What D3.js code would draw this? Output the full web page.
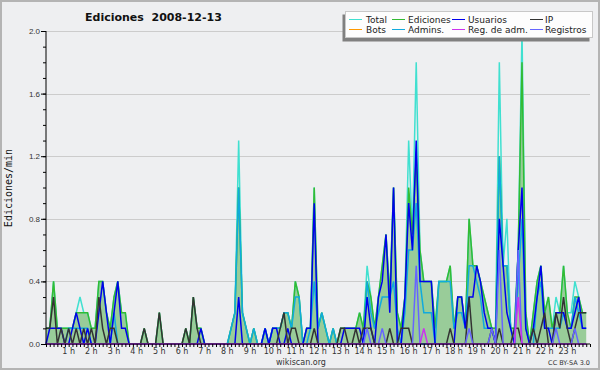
<!DOCTYPE html>
<html>
<head>
<meta charset="utf-8">
<script src="https://cdn.jsdelivr.net/npm/d3@7"></script>
<style>
    body { margin: 0; background: #fff; }
    svg { display: block; font-family: "DejaVu Sans", sans-serif; }
</style>
</head>
<body>
<svg id="chart"></svg>
<script>
// edits per minute, one value per 10 minutes (144 per day)
const total = [
    .1, .1, .4, .1, .1, .1, .1, .1, .2, .3, .2, .2,
    .1, .1, .4, .4, .2, .1, .3, .4, .2, .2, 0, 0,
    0, 0, .1, 0, 0, 0, .2, 0, 0, 0, 0, 0,
    0, .1, 0, .3, .1, .1, 0, 0, 0, 0, 0, 0,
    0, .1, .2, 1.3, .2, .1, 0, .1, 0, 0, .1, 0,
    .1, .1, .1, .2, .2, .1, .4, .3, 0, .1, .1, 1.0,
    .1, .2, .1, 0, .1, 0, .1, .1, .1, .1, .1, .2,
    .1, .5, .3, .1, .3, .5, .7, .3, 1.0, .2, .1, .3,
    1.3, .7, 1.8, .6, .4, .4, .4, .1, .4, .4, .4, .5,
    .1, .3, .3, .1, .8, .5, .5, .4, .3, .2, .1, .1,
    1.8, .5, .8, .1, .1, .6, 2.0, .2, 0, .2, .4, .5,
    .2, .3, .1, .3, .2, .5, .2, .2, .4, .3, .2, .2
]
const ediciones = [
    .1, .1, .4, .1, .1, .1, .1, .1, .2, .2, .2, .2,
    .1, .1, .4, .4, .2, .1, .3, .4, .2, .2, 0, 0,
    0, 0, .1, 0, 0, 0, .2, 0, 0, 0, 0, 0,
    0, .1, 0, .3, .1, .1, 0, 0, 0, 0, 0, 0,
    0, .1, .2, 1.0, .2, .1, 0, .1, 0, 0, .1, 0,
    .1, .1, .1, .2, .2, .1, .4, .3, 0, .1, .1, 1.0,
    .1, .2, .1, 0, .1, 0, .1, .1, .1, .1, .1, .2,
    .1, .4, .3, .1, .3, .5, .7, .3, 1.0, .2, .1, .3,
    1.0, .7, 1.2, .6, .4, .4, .4, .1, .4, .4, .4, .5,
    .1, .3, .3, .1, .8, .5, .5, .4, .3, .2, .1, .1,
    1.2, .5, .5, .1, .1, .6, 1.8, .2, 0, .2, .4, .5,
    .2, .3, .1, .2, .2, .5, .2, .1, .3, .3, .2, .2
]
const usuarios = [
    0, .1, .1, .1, .1, 0, 0, .1, .2, .1, 0, .1,
    0, 0, .2, .4, .2, 0, .2, .4, .1, .1, 0, 0,
    0, 0, 0, 0, 0, 0, 0, 0, 0, 0, 0, 0,
    0, 0, 0, 0, 0, .1, 0, 0, 0, 0, 0, 0,
    0, 0, 0, .3, 0, 0, 0, 0, 0, 0, .1, 0,
    .1, .1, 0, 0, .1, 0, 0, 0, 0, .1, .1, .9,
    0, 0, 0, 0, 0, 0, 0, .1, .1, .1, .1, .1,
    0, .3, .1, 0, .3, .4, .7, .2, 1.0, 0, 0, .3,
    .9, .6, 1.3, .4, .4, .4, .4, 0, 0, 0, 0, 0,
    0, .3, .3, .1, .3, .3, .5, .4, .2, .1, .1, 0,
    .8, .5, .2, .1, 0, .6, 1.0, .1, 0, .1, .3, .5,
    .1, .1, 0, .2, .2, .2, .1, .1, .2, .3, .1, .1
]
const ip = [
    .1, .1, .3, 0, .1, 0, .1, 0, .1, 0, .1, 0,
    .1, 0, .3, .1, 0, .1, .1, 0, 0, 0, 0, 0,
    0, 0, .1, 0, 0, 0, .2, 0, 0, 0, 0, 0,
    0, .1, 0, .3, .1, 0, 0, 0, 0, 0, 0, 0,
    0, 0, 0, 0, 0, 0, 0, 0, 0, 0, 0, 0,
    0, 0, .1, .2, 0, .1, .1, 0, 0, 0, 0, .1,
    0, 0, 0, 0, 0, 0, .1, .1, 0, 0, .1, 0,
    .1, .1, .1, 0, 0, 0, 0, .1, 0, 0, .1, .1,
    .1, 0, 0, 0, 0, 0, 0, 0, 0, 0, 0, .1,
    0, 0, 0, 0, .3, 0, 0, 0, 0, 0, .1, 0,
    .1, 0, 0, 0, .1, .1, 0, 0, 0, .1, 0, .1,
    .2, 0, 0, .2, .1, .3, .1, 0, .1, .2, .2, .2
]
const admins = [
    0, 0, 0, 0, 0, 0, .1, .1, .1, .1, .1, .1,
    0, 0, 0, 0, 0, 0, .2, 0, 0, 0, 0, 0,
    0, 0, 0, 0, 0, 0, 0, 0, 0, 0, 0, 0,
    0, 0, 0, 0, 0, 0, 0, 0, 0, 0, 0, 0,
    0, .1, .2, 1.0, .2, .1, 0, .1, 0, 0, .1, 0,
    .1, .1, .1, .2, .2, .1, .3, .3, 0, 0, .1, .4,
    .1, .2, .1, 0, .1, 0, 0, 0, 0, 0, 0, 0,
    0, .4, .2, .1, .2, .3, .3, .3, .4, .1, 0, .2,
    .6, .6, .9, .4, .2, .2, .2, 0, .4, .4, .4, .4,
    .1, .2, .2, .1, .5, .5, .4, .3, .1, .1, .1, 0,
    1.2, .5, .5, .1, 0, .4, .8, .1, 0, 0, .3, .4,
    .1, .1, .1, .1, .1, .2, .1, .1, .3, .2, .1, .1
]
const registros = [
    0, 0, 0, 0, 0, 0, 0, 0, 0, 0, 0, 0,
    0, 0, 0, 0, 0, 0, 0, 0, 0, 0, 0, 0,
    0, 0, 0, 0, 0, 0, 0, 0, 0, 0, 0, 0,
    0, 0, 0, 0, 0, 0, 0, 0, 0, 0, 0, 0,
    0, 0, 0, 0, 0, 0, 0, 0, 0, 0, 0, 0,
    0, 0, 0, 0, 0, 0, 0, 0, 0, 0, 0, 0,
    0, 0, 0, 0, 0, 0, 0, 0, 0, 0, 0, 0,
    0, .1, 0, 0, 0, .1, 0, 0, 0, 0, 0, 0,
    0, 0, .5, 0, 0, 0, 0, 0, 0, 0, 0, 0,
    0, 0, 0, 0, .1, 0, 0, 0, 0, 0, .1, 0,
    .6, 0, 0, 0, 0, .6, 0, 0, 0, 0, 0, 0,
    0, 0, 0, .1, 0, 0, 0, 0, .1, 0, 0, 0
]
const regAdm = [
    0, 0, 0, 0, 0, 0, 0, 0, 0, 0, 0, 0,
    0, 0, 0, 0, 0, 0, 0, 0, 0, 0, 0, 0,
    0, 0, 0, 0, 0, 0, 0, 0, 0, 0, 0, 0,
    0, 0, 0, 0, 0, 0, 0, 0, 0, 0, 0, 0,
    0, 0, 0, 0, 0, 0, 0, 0, 0, 0, 0, 0,
    0, 0, 0, 0, 0, 0, 0, 0, 0, 0, 0, 0,
    0, 0, 0, 0, 0, 0, 0, 0, 0, 0, 0, 0,
    0, 0, 0, 0, 0, 0, 0, 0, 0, 0, 0, 0,
    0, 0, 0, 0, .1, 0, 0, 0, 0, 0, 0, 0,
    0, 0, 0, 0, 0, 0, 0, 0, 0, 0, 0, 0,
    0, 0, 0, 0, 0, .3, 0, 0, 0, 0, 0, 0,
    0, 0, 0, 0, 0, 0, 0, 0, 0, 0, 0, 0
]

const hourLabels = ['1 h', '2 h', '3 h', '4 h', '5 h', '6 h', '7 h', '8 h', '9 h', '10 h', '11 h', '12 h',
    '13 h', '14 h', '15 h', '16 h', '17 h', '18 h', '19 h', '20 h', '21 h', '22 h', '23 h']
const yTicks = [0, 0.4, 0.8, 1.2, 1.6, 2.0]

const legendItems = [
    {name: 'Total', color: '#40e0d0'},
    {name: 'Ediciones', color: '#33bb33'},
    {name: 'Usuarios', color: '#0000ee'},
    {name: 'IP', color: '#333333'},
    {name: 'Bots', color: '#ff9900'},
    {name: 'Admins.', color: '#11aadd'},
    {name: 'Reg. de adm.', color: '#cc33ee'},
    {name: 'Registros', color: '#6666ff'}
]

const svg = d3.select('#chart')
    .attr('width', 600)
    .attr('height', 370)

// page background + frame
svg.append('rect')
    .attr('x', 1).attr('y', 1)
    .attr('width', 598).attr('height', 368)
    .attr('fill', '#eeeff1')
    .attr('stroke', '#b4b4b4')
    .attr('stroke-width', 2)

const x = d3.scaleLinear()
    .domain([0, 144])
    .range([46, 590])

const y = d3.scaleLinear()
    .domain([0, 2])
    .range([344, 31])

// grid
svg.append('g')
    .selectAll('line')
    .data(yTicks.slice(1))
    .join('line')
    .attr('x1', 46).attr('x2', 590)
    .attr('y1', d => Math.round(y(d)) + 0.5)
    .attr('y2', d => Math.round(y(d)) + 0.5)
    .attr('stroke', '#cccccc')

// series
const plot = svg.append('g')

const area = d3.area()
    .x((d, i) => x(i))
    .y0(y(0))
    .y1(d => y(d))

plot.append('path')
    .attr('d', area(ediciones))
    .attr('fill', '#99cc99')

const line = d3.line()
    .x((d, i) => x(i))
    .y(d => y(d))

const series = [
    {values: total, color: '#40e0d0'},
    {values: ediciones, color: '#33bb33'},
    {values: admins, color: '#11aadd'},
    {values: usuarios, color: '#0000ee'},
    {values: ip, color: '#333333'},
    {values: registros, color: '#6666ff'},
    {values: regAdm, color: '#cc33ee'}
]

plot.selectAll('path.series')
    .data(series)
    .join('path')
    .attr('class', 'series')
    .attr('d', d => line(d.values))
    .attr('fill', 'none')
    .attr('stroke', d => d.color)
    .attr('stroke-width', 1.5)
    .attr('stroke-linejoin', 'miter')

// y axis
const yAxisMinor = d3.axisLeft(y)
    .tickValues(d3.range(0, 21).map(k => k / 10))
    .tickSize(3)
    .tickFormat('')

svg.append('g')
    .attr('transform', 'translate(46,0)')
    .call(yAxisMinor)
    .call(g => g.select('.domain').remove())

const yAxis = d3.axisLeft(y)
    .tickValues(yTicks)
    .tickSize(5)
    .tickPadding(1)
    .tickFormat(d3.format('.1f'))

svg.append('g')
    .attr('transform', 'translate(46,0)')
    .call(yAxis)
    .call(g => g.select('.domain').attr('d', `M-0,31V344`))
    .call(g => g.selectAll('text').attr('font-size', 8).attr('fill', '#333'))

// x axis
const xAxis = d3.axisBottom(x)
    .tickValues(d3.range(0, 145))
    .tickSize(3)
    .tickFormat('')

svg.append('g')
    .attr('transform', 'translate(0,344)')
    .call(xAxis)
    .call(g => g.select('.domain').attr('d', 'M46,0H590'))

svg.append('g')
    .selectAll('text')
    .data(hourLabels)
    .join('text')
    .attr('x', (d, i) => x((i + 1) * 6))
    .attr('y', 353.5)
    .attr('text-anchor', 'middle')
    .attr('font-size', 8)
    .attr('fill', '#333')
    .text(d => d)

// titles
svg.append('text')
    .attr('x', 85).attr('y', 21)
    .attr('font-size', 11)
    .attr('font-weight', 'bold')
    .attr('fill', '#111')
    .attr('xml:space', 'preserve')
    .style('white-space', 'pre')
    .text('Ediciones  2008-12-13')

svg.append('text')
    .attr('transform', 'translate(12,188) rotate(-90)')
    .attr('text-anchor', 'middle')
    .attr('font-family', '"DejaVu Sans Mono", monospace')
    .attr('font-size', 10)
    .attr('fill', '#111')
    .text('Ediciones/min')

svg.append('text')
    .attr('x', 301).attr('y', 365)
    .attr('text-anchor', 'middle')
    .attr('font-size', 8)
    .attr('fill', '#333')
    .text('wikiscan.org')

svg.append('text')
    .attr('x', 590).attr('y', 365)
    .attr('text-anchor', 'end')
    .attr('font-size', 6.5)
    .attr('fill', '#333')
    .text('CC BY-SA 3.0')

// legend
const legend = svg.append('g')

legend.append('rect')
    .attr('x', 342.5).attr('y', 14.5)
    .attr('width', 247).attr('height', 27)
    .attr('fill', '#808080')

legend.append('rect')
    .attr('x', 345.5).attr('y', 11.5)
    .attr('width', 247).attr('height', 26)
    .attr('fill', '#fdfdfd')
    .attr('stroke', '#c8c8c8')

const colX = [349, 392, 452, 530]
const rowY = [19, 29]

const items = legend.selectAll('g.item')
    .data(legendItems)
    .join('g')
    .attr('class', 'item')
    .attr('transform', (d, i) => `translate(${colX[i % 4]},${rowY[Math.floor(i / 4)]})`)

items.append('line')
    .attr('x1', 0).attr('x2', 13)
    .attr('y1', 0.5).attr('y2', 0.5)
    .attr('stroke', d => d.color)

items.append('text')
    .attr('x', (d, i) => [17, 16, 16, 15][i % 4])
    .attr('y', 3.5)
    .attr('font-size', 9)
    .attr('fill', '#222')
    .text(d => d.name)
</script>
</body>
</html>
